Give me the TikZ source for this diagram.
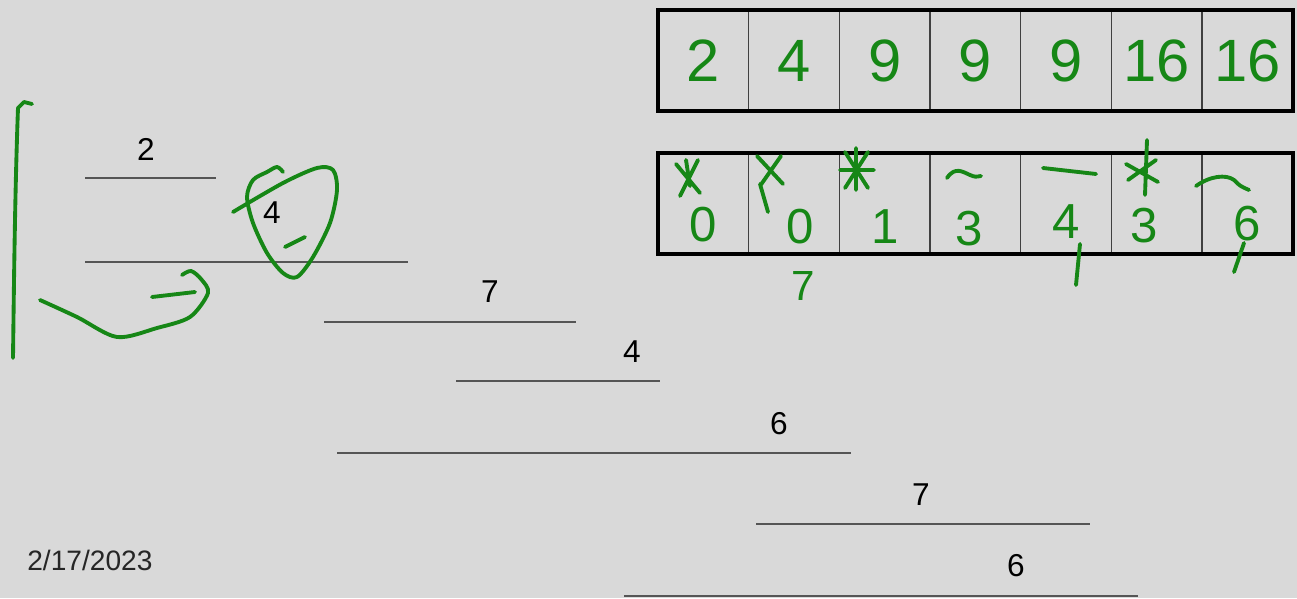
\documentclass[tikz,border=0pt]{standalone}
\usepackage{fontspec}
\setmainfont{Liberation Sans}
\usetikzlibrary{positioning}
\definecolor{slidebg}{RGB}{217,217,217}
\definecolor{ink}{RGB}{22,135,22}
\definecolor{rulegray}{RGB}{85,85,85}

\begin{document}
\begin{tikzpicture}[
    x=0.02cm, y=-0.02cm,
    cell/.style={
        rectangle, draw=black!75, line width=0.8pt, minimum width=1.814cm,
        minimum height=2.02cm, inner sep=0pt, outer sep=0pt, text=ink
    },
    topcell/.style={cell, font=\fontsize{34}{34}\selectfont},
    hand/.style={text=ink, font=\fontsize{28}{28}\selectfont, inner sep=0pt},
    seg/.style={draw=rulegray, line width=1.2pt},
    num/.style={font=\fontsize{18}{18}\selectfont, inner sep=0pt},
    pen/.style={draw=ink, line width=2.2pt, line cap=round, line join=round}
]

% Slide
\fill[slidebg] (0,0) rectangle (1297,598);
\useasboundingbox (0,0) rectangle (1297,598);

% Top array
\node[topcell, anchor=north west] (t1) at (658,10) {2};
\node[topcell, right=0pt of t1] (t2) {4};
\node[topcell, right=0pt of t2] (t3) {9};
\node[topcell, right=0pt of t3] (t4) {9};
\node[topcell, right=0pt of t4] (t5) {9};
\node[topcell, right=0pt of t5] (t6) {16};
\node[topcell, right=0pt of t6] (t7) {16};
\draw[line width=2.4pt] (t1.north west) rectangle (t7.south east);

% Bottom array
\node[cell, anchor=north west] (b1) at (658,153) {};
\node[cell, right=0pt of b1] (b2) {};
\node[cell, right=0pt of b2] (b3) {};
\node[cell, right=0pt of b3] (b4) {};
\node[cell, right=0pt of b4] (b5) {};
\node[cell, right=0pt of b5] (b6) {};
\node[cell, right=0pt of b6] (b7) {};
\draw[line width=2.4pt] (b1.north west) rectangle (b7.south east);

% Handwritten values
\node[hand] (v1) at ([yshift=-0.42cm]b1.center) {0};
\node[hand] (v2) at ([xshift=0.12cm, yshift=-0.46cm]b2.center) {0};
\node[hand] (v3) at ([yshift=-0.46cm]b3.center) {1};
\node[hand] (v4) at ([xshift=-0.12cm, yshift=-0.5cm]b4.center) {3};
\node[hand] (v5) at ([yshift=-0.36cm]b5.center) {4};
\node[hand] (v6) at ([xshift=-0.26cm, yshift=-0.44cm]b6.center) {3};
\node[hand] (v7) at ([yshift=-0.4cm]b7.center) {6};
\node[hand, font=\fontsize{24}{24}\selectfont] (v8) at (803,286) {7};

% Marks over the values
\draw[pen] (676,164) -- (700,193) (698,160) -- (680,196) (686,160) -- (690,186);
\draw[pen] (757,156) -- (783,184) (781,156) -- (760,186) (760,184) -- (768,212);
\draw[pen] (840,170) -- (874,170) (845,152) -- (868,188) (868,152) -- (845,188) (856,148) -- (856,190);
\draw[pen] (947,178) .. controls (955,166) and (963,172) .. (970,175) .. controls (975,177) .. (981,176);
\draw[pen] (1043,168) -- (1096,174);
\draw[pen] (1147,140) -- (1145,195) (1126,164) -- (1158,182) (1156,160) -- (1128,180);
\draw[pen] (1196,186) .. controls (1210,176) and (1226,174) .. (1234,180) .. controls (1240,186) .. (1249,190);
\draw[pen] (1080,244) -- (1076,285);
\draw[pen] (1244,243) -- (1234,272);

% Intervals
\draw[seg] (85,178) -- (216,178);
\node[num] (n1) at (146,149) {2};
\draw[seg] (85,262) -- (408,262);
\node[num] (n2) at (272,213) {4};
\draw[seg] (324,322) -- (576,322);
\node[num] (n3) at (490,292) {7};
\draw[seg] (456,381) -- (660,381);
\node[num] (n4) at (632,352) {4};
\draw[seg] (337,453) -- (851,453);
\node[num] (n5) at (779,424) {6};
\draw[seg] (756,524) -- (1090,524);
\node[num] (n6) at (921,495) {7};
\draw[seg] (624,596) -- (1138,596);
\node[num] (n7) at (1016,566) {6};

% Date
\node[font=\fontsize{16}{16}\selectfont, text=black!85, anchor=west, inner sep=0pt] (date) at (27,560) {2/17/2023};

% Scribbles on the left
\draw[pen] (32,104) -- (24,102) -- (18,108) .. controls (15,190) and (14,280) .. (13,358);
\draw[pen] plot[smooth] coordinates {(40,300) (77,317) (117,337) (157,328) (190,317) (208,293) (201,279) (191,271) (182,275)};
\draw[pen] (152,297) -- (195,292);
\draw[pen] plot[smooth] coordinates {(233,212) (283,183) (317,168) (333,170) (337,190) (330,223) (313,257) (297,277) (283,273) (267,253) (253,223) (247,197) (253,180) (267,172) (277,167) (283,172)};
\draw[pen] (285,247) -- (305,237);

\end{tikzpicture}
\end{document}
